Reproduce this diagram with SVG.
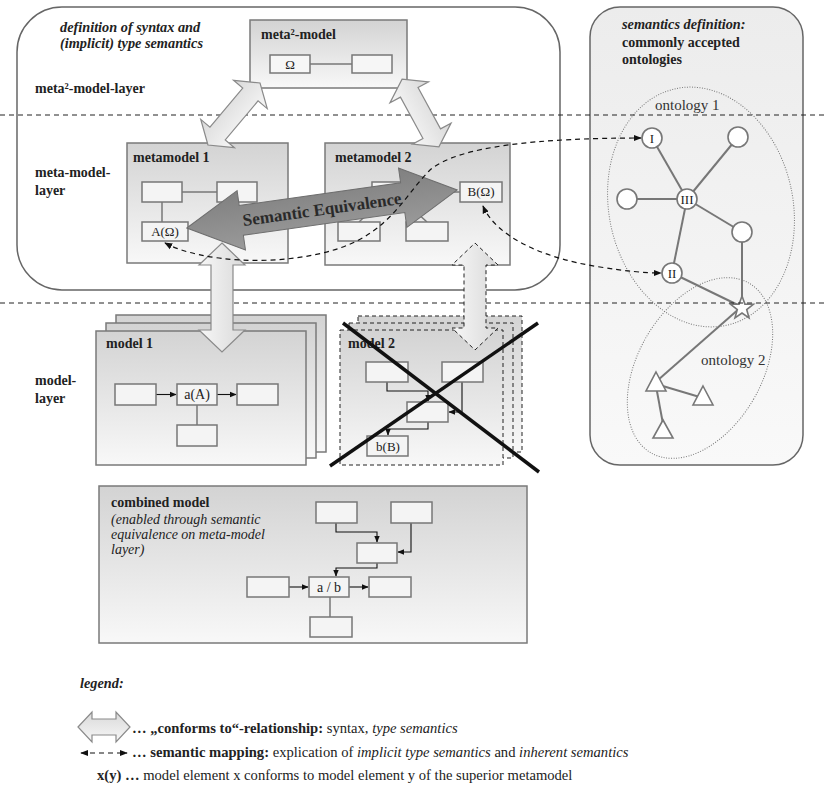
<svg xmlns="http://www.w3.org/2000/svg" width="828" height="808" viewBox="0 0 828 808" font-family="'Liberation Serif', 'DejaVu Serif', serif">
  <defs>
    <linearGradient id="boxFill" x1="0" y1="0" x2="0" y2="1">
      <stop offset="0" stop-color="#d3d3d3"/>
      <stop offset="1" stop-color="#f8f8f8"/>
    </linearGradient>
    <linearGradient id="arrowFill" x1="0" y1="0" x2="0" y2="1">
      <stop offset="0" stop-color="#d9d9d9"/>
      <stop offset="1" stop-color="#f7f7f7"/>
    </linearGradient>
    <linearGradient id="ontoFill" x1="0" y1="0" x2="0" y2="1">
      <stop offset="0" stop-color="#ececec"/>
      <stop offset="1" stop-color="#f9f9f9"/>
    </linearGradient>
    <linearGradient id="semFill" x1="0" y1="0" x2="0" y2="1">
      <stop offset="0" stop-color="#808080"/>
      <stop offset="1" stop-color="#9a9a9a"/>
    </linearGradient>
    <marker id="tip" viewBox="0 0 10 10" refX="9" refY="5" markerWidth="7" markerHeight="7" markerUnits="userSpaceOnUse" orient="auto">
      <path d="M0,1 L10,5 L0,9 Z" fill="#111"/>
    </marker>
    <marker id="mapTip" viewBox="0 0 10 10" refX="9" refY="5" markerWidth="8" markerHeight="8" markerUnits="userSpaceOnUse" orient="auto-start-reverse">
      <path d="M0,1 L10,5 L0,9 Z" fill="#111"/>
    </marker>
  </defs>
  <style>
    text { font-family: "Liberation Serif", "DejaVu Serif", serif; fill: #222; }
    .b { font-weight: bold; font-size: 14px; }
    .bi { font-weight: bold; font-style: italic; font-size: 14.3px; }
    .i { font-style: italic; }
    .lbl { font-size: 13px; text-anchor: middle; }
    .box { fill: url(#boxFill); stroke: #7a7a7a; stroke-width: 1.5; }
    .dbox { fill: url(#boxFill); stroke: #222; stroke-width: 1; stroke-dasharray: 4 3; }
    .el { fill: #f4f4f4; stroke: #777; stroke-width: 1.5; }
    .wire { fill: none; stroke: #777; stroke-width: 1.5; }
    .flow { fill: none; stroke: #111; stroke-width: 1.1; marker-end: url(#tip); }
    .hollow { fill: url(#arrowFill); stroke: #8a8a8a; stroke-width: 1.2; }
    .layer { stroke: #222; stroke-width: 1; stroke-dasharray: 5 4; }
    .map { fill: none; stroke: #111; stroke-width: 1.2; stroke-dasharray: 5 4; marker-start: url(#mapTip); marker-end: url(#mapTip); }
    .onode { fill: #fff; stroke: #777; stroke-width: 1.6; }
    .oedge { stroke: #777; stroke-width: 2; }
    .oval { fill: none; stroke: #777; stroke-width: 1; stroke-dasharray: 1 1.5; }
    .legend { font-size: 14.6px; }
  </style>

  <!-- containers -->
  <g id="syntax-area">
    <path d="M62,7 H515 A45,45 0 0 1 560,52 V245 A45,45 0 0 1 515,290 H62 A45,45 0 0 1 17,245 V52 A45,45 0 0 1 62,7 Z" fill="#fff" stroke="#666" stroke-width="1.5"/>
    <text class="bi" x="60" y="32">definition of syntax and</text>
    <text class="bi" x="60" y="48">(implicit) type semantics</text>
  </g>
  <g id="semantics-area">
    <path d="M620,7 H773 A30,30 0 0 1 803,37 V435 A30,30 0 0 1 773,465 H620 A30,30 0 0 1 590,435 V37 A30,30 0 0 1 620,7 Z" fill="url(#ontoFill)" stroke="#666" stroke-width="1.5"/>
    <text class="bi" x="622" y="29">semantics definition:</text>
    <text class="b" x="622" y="47">commonly accepted</text>
    <text class="b" x="622" y="64">ontologies</text>
  </g>

  <!-- layer labels -->
  <g id="layer-labels">
    <text class="b" x="35" y="93">meta²-model-layer</text>
    <text class="b" x="35" y="177">meta-model-</text>
    <text class="b" x="35" y="195">layer</text>
    <text class="b" x="35" y="385">model-</text>
    <text class="b" x="35" y="403">layer</text>
  </g>

  <!-- ontologies -->
  <g id="ontology-1">
    <ellipse class="oval" cx="701" cy="207" rx="92" ry="121" transform="rotate(-12 701 207)"/>
    <text x="655" y="110" style="font-size:15px;fill:#333">ontology 1</text>
  </g>
  <g id="ontology-2">
    <ellipse class="oval" cx="700" cy="368" rx="62" ry="98" transform="rotate(30 700 368)"/>
    <text x="701" y="365" style="font-size:15px;fill:#333">ontology 2</text>
  </g>
  <g id="ontology-edges">
    <line class="oedge" x1="652" y1="138" x2="687" y2="199"/>
    <line class="oedge" x1="738" y1="137" x2="687" y2="199"/>
    <line class="oedge" x1="627" y1="199" x2="687" y2="199"/>
    <line class="oedge" x1="687" y1="199" x2="742" y2="232"/>
    <line class="oedge" x1="687" y1="199" x2="672" y2="273"/>
    <line class="oedge" x1="742" y1="232" x2="742" y2="300"/>
    <line class="oedge" x1="672" y1="273" x2="740" y2="306"/>
    <line class="oedge" x1="740" y1="308" x2="658" y2="380"/>
    <line class="oedge" x1="656" y1="384" x2="703" y2="398"/>
    <line class="oedge" x1="656" y1="386" x2="663" y2="424"/>
  </g>
  <g id="node-I"><circle class="onode" cx="652" cy="138" r="10"/><text x="652" y="143" style="font-size:13px;text-anchor:middle">I</text></g>
  <g id="node-top"><circle class="onode" cx="738" cy="137" r="10"/></g>
  <g id="node-left"><circle class="onode" cx="627" cy="199" r="10"/></g>
  <g id="node-III"><circle class="onode" cx="687" cy="199" r="10"/><text x="687" y="204" style="font-size:13px;text-anchor:middle">III</text></g>
  <g id="node-right"><circle class="onode" cx="742" cy="232" r="10"/></g>
  <g id="node-II"><circle class="onode" cx="672" cy="273" r="10"/><text x="672" y="278" style="font-size:13px;text-anchor:middle">II</text></g>
  <g id="node-star"><polygon class="onode" points="742,296 744.9,304.1 753.4,304.3 746.7,309.5 749,317.8 742,313 735,317.8 737.3,309.5 730.6,304.3 739.1,304.1"/></g>
  <g id="node-t1"><polygon class="onode" points="656,372 666,391 646,391"/></g>
  <g id="node-t2"><polygon class="onode" points="703,386 713,405 693,405"/></g>
  <g id="node-t3"><polygon class="onode" points="663,420 673,438 653,438"/></g>

  <!-- layer separators -->
  <g id="layer-lines">
    <line class="layer" x1="0" y1="115" x2="828" y2="115"/>
    <line class="layer" x1="0" y1="303" x2="828" y2="303"/>
  </g>

  <!-- meta²-model -->
  <g id="meta2-model">
    <rect class="box" x="250" y="20" width="157" height="68"/>
    <text class="b" x="261" y="39">meta²-model</text>
    <line class="wire" x1="310" y1="64" x2="352" y2="64"/>
    <rect x="270" y="55" width="40" height="18" fill="#f6f6f6" stroke="#777" stroke-width="1.5"/>
    <text class="lbl" x="290" y="69">Ω</text>
    <rect x="352" y="55" width="40" height="18" fill="#f6f6f6" stroke="#777" stroke-width="1.5"/>
  </g>

  <!-- metamodel 1 -->
  <g id="metamodel-1">
    <rect class="box" x="127" y="143" width="161" height="120"/>
    <text class="b" x="133" y="162">metamodel 1</text>
    <line class="wire" x1="182" y1="192" x2="217" y2="192"/>
    <line class="wire" x1="162" y1="202" x2="162" y2="222"/>
    <rect class="el" x="142" y="182" width="40" height="20"/>
    <rect class="el" x="217" y="182" width="40" height="20"/>
    <rect class="el" x="142" y="222" width="46" height="19"/>
    <text class="lbl" x="165" y="236">A(Ω)</text>
  </g>

  <!-- metamodel 2 -->
  <g id="metamodel-2">
    <rect class="box" x="325" y="143" width="185" height="122"/>
    <text class="b" x="335" y="162">metamodel 2</text>
    <line class="wire" x1="413" y1="192" x2="460" y2="192"/>
    <line class="wire" x1="380" y1="202" x2="359" y2="222"/>
    <line class="wire" x1="405" y1="202" x2="427" y2="222"/>
    <rect class="el" x="372" y="182" width="41" height="20"/>
    <rect class="el" x="338" y="222" width="42" height="19"/>
    <rect class="el" x="406" y="222" width="42" height="19"/>
    <rect class="el" x="460" y="182" width="42" height="20"/>
    <text class="lbl" x="481" y="196">B(Ω)</text>
  </g>

  <!-- model 1 (stacked instances) -->
  <g id="model-1">
    <rect class="box" x="116" y="315" width="210" height="137"/>
    <rect class="box" x="106" y="323" width="210" height="135"/>
    <rect class="box" x="96" y="331" width="210" height="134"/>
    <text class="b" x="106" y="348">model 1</text>
    <line class="flow" x1="156" y1="394.5" x2="176" y2="394.5"/>
    <line class="flow" x1="217" y1="394.5" x2="236" y2="394.5"/>
    <line class="wire" x1="197" y1="405" x2="197" y2="425"/>
    <rect class="el" x="115" y="384" width="41" height="21"/>
    <rect class="el" x="177" y="384" width="40" height="21"/>
    <text class="lbl" x="197" y="399" style="font-size:14px">a(A)</text>
    <rect class="el" x="237" y="384" width="41" height="21"/>
    <rect class="el" x="177" y="425" width="40" height="21"/>
  </g>

  <!-- model 2 (rejected) -->
  <g id="model-2">
    <rect class="dbox" x="358" y="316" width="164" height="136"/>
    <rect class="dbox" x="349" y="323" width="164" height="135"/>
    <rect class="dbox" x="340" y="330" width="163" height="135"/>
    <text class="b" x="348" y="348">model 2</text>
    <polyline class="flow" points="387,382 387,391 428,391 428,401"/>
    <polyline class="flow" points="462,382 462,412 449,412"/>
    <polyline class="flow" points="428,422 428,429 388,429 388,435"/>
    <rect class="el" x="366" y="362" width="42" height="20"/>
    <rect class="el" x="442" y="362" width="41" height="20"/>
    <rect class="el" x="407" y="402" width="41" height="20"/>
    <rect class="el" x="367" y="436" width="41" height="20"/>
    <text class="lbl" x="388" y="451">b(B)</text>
    <line x1="343" y1="323" x2="539" y2="472" stroke="#111" stroke-width="3.5"/>
    <line x1="538" y1="323" x2="330" y2="466" stroke="#111" stroke-width="3.5"/>
  </g>

  <!-- combined model -->
  <g id="combined-model">
    <rect class="box" x="99" y="486" width="428" height="157"/>
    <text class="b" x="111" y="507">combined model</text>
    <text class="i" x="111" y="524" style="font-size:14px">(enabled through semantic</text>
    <text class="i" x="111" y="539" style="font-size:14px">equivalence on meta-model</text>
    <text class="i" x="111" y="554" style="font-size:14px">layer)</text>
    <polyline class="flow" points="336,523 336,532 377,532 377,542"/>
    <polyline class="flow" points="411,523 411,552 398,552"/>
    <polyline class="flow" points="377,563 377,568 336,568 336,576"/>
    <line class="flow" x1="289" y1="587" x2="308" y2="587"/>
    <line class="flow" x1="349" y1="587" x2="368" y2="587"/>
    <line class="wire" x1="330" y1="597" x2="330" y2="617"/>
    <rect class="el" x="316" y="502" width="41" height="21"/>
    <rect class="el" x="391" y="502" width="41" height="21"/>
    <rect class="el" x="357" y="543" width="40" height="20"/>
    <rect class="el" x="247" y="577" width="42" height="20"/>
    <rect class="el" x="309" y="577" width="40" height="20"/>
    <text class="lbl" x="329" y="592" style="font-size:14px">a / b</text>
    <rect class="el" x="369" y="577" width="42" height="20"/>
    <rect class="el" x="310" y="617" width="42" height="20"/>
  </g>

  <!-- connectors -->
  <g id="connectors">
    <!-- conforms-to relationships -->
    <polygon class="hollow" transform="translate(234,114) rotate(-50)" points="-40.5,0 -25.5,-22 -25.5,-10 25.5,-10 25.5,-22 40.5,0 25.5,22 25.5,10 -25.5,10 -25.5,22"/>
    <polygon class="hollow" transform="translate(420.5,113) rotate(61.4)" points="-38.5,0 -23.5,-22 -23.5,-10 23.5,-10 23.5,-22 38.5,0 23.5,22 23.5,10 -23.5,10 -23.5,22"/>
    <polygon class="hollow" transform="translate(222,297.5) rotate(90)" points="-54.5,0 -32.5,-23 -32.5,-11 32.5,-11 32.5,-23 54.5,0 32.5,23 32.5,11 -32.5,11 -32.5,23"/>
    <polygon class="hollow" transform="translate(475,296.5) rotate(90)" style="stroke:#222;stroke-dasharray:4 3;stroke-width:1" points="-53.5,0 -31.5,-23 -31.5,-11 31.5,-11 31.5,-23 53.5,0 31.5,23 31.5,11 -31.5,11 -31.5,23"/>
    <!-- semantic equivalence -->
    <g transform="translate(322,209) rotate(-8)">
      <polygon points="-136.5,0 -81.5,-30 -81.5,-15 81.5,-15 81.5,-30 136.5,0 81.5,30 81.5,15 -81.5,15 -81.5,30" fill="url(#semFill)" stroke="#6e6e6e" stroke-width="1"/>
      <text x="0" y="6" style="font-size:17px;font-weight:bold;text-anchor:middle;fill:#2a2a2a">Semantic Equivalence</text>
    </g>
    <!-- semantic mappings -->
    <path class="map" d="M165,243 C200,262 280,268 340,248 C390,231 405,195 430,170 C458,146 540,138 641,138"/>
    <path class="map" d="M483,206 C495,235 540,258 600,267 C625,271 645,273 661,273"/>
  </g>

  <!-- legend -->
  <g id="legend">
    <text class="bi" x="80" y="688">legend:</text>
    <polygon class="hollow" transform="translate(104,727)" points="-26,0 -12,-15 -12,-8 12,-8 12,-15 26,0 12,15 12,8 -12,8 -12,15"/>
    <text class="legend" x="132" y="733"><tspan font-weight="bold">… „conforms to“-relationship:</tspan> syntax, <tspan font-style="italic">type semantics</tspan></text>
    <line class="map" x1="81" y1="753" x2="127" y2="753"/>
    <text class="legend" x="132" y="757"><tspan font-weight="bold">… semantic mapping:</tspan> explication of <tspan font-style="italic">implicit type semantics</tspan> and <tspan font-style="italic">inherent semantics</tspan></text>
    <text class="legend" x="97" y="780"><tspan font-weight="bold">x(y) …</tspan> model element x conforms to model element y of the superior metamodel</text>
  </g>
</svg>
